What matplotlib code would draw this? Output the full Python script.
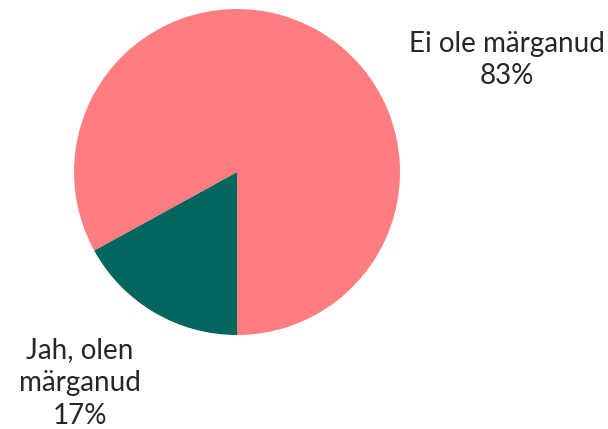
import matplotlib
matplotlib.use('Agg')
import matplotlib.pyplot as plt

labels = ['Jah, olen\nmärganud', 'Ei ole märganud']
shares = [17, 83]
colors = ['#00665E', '#FF7C80']

plt.rcParams['font.family'] = ['Lato', 'DejaVu Sans']

fig = plt.figure(figsize=(6.08, 4.29), dpi=100)
ax = fig.add_axes([74 / 608, (429 - 335) / 429, 326 / 608, 326 / 429])
ax.pie(shares, colors=colors, startangle=-90, counterclock=False, radius=1.0)
ax.set_xlim(-1, 1)
ax.set_ylim(-1, 1)
ax.set_aspect('equal')
ax.axis('off')

txt = dict(ha='center', va='center', fontsize=20, color='#262626', linespacing=1.32)
fig.text(507 / 608, 1 - 60 / 429, labels[1] + '\n' + f'{shares[1]}%', **txt)
fig.text(80 / 608, 1 - 383 / 429, labels[0] + '\n' + f'{shares[0]}%', **txt)

fig.savefig('out.png', dpi=100)
